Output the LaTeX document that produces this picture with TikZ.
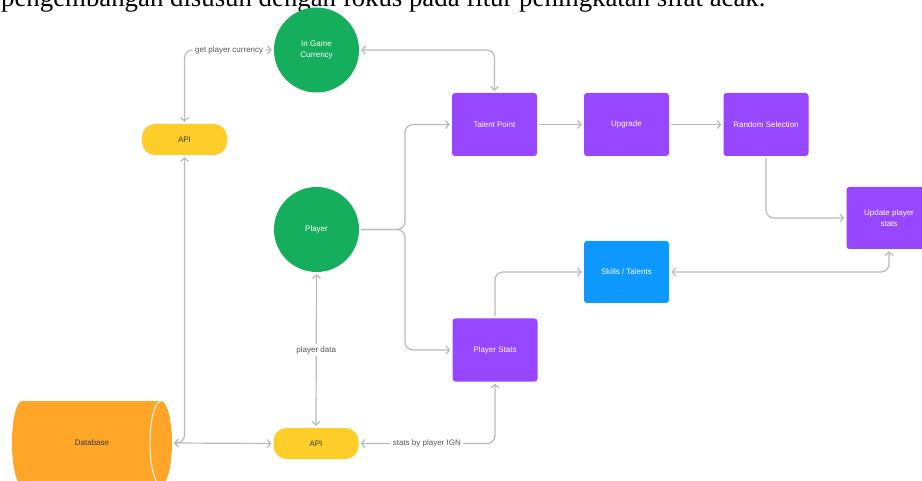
\documentclass[tikz,border=0pt]{standalone}
\usepackage{fontspec}
\setmainfont{Liberation Sans}
\newfontfamily\capserif{Liberation Serif}
\usetikzlibrary{arrows.meta}
\definecolor{cgreen}{HTML}{14AE5C}
\definecolor{cpurple}{HTML}{9747FF}
\definecolor{cblue}{HTML}{0D99FF}
\definecolor{cyellow}{HTML}{FFCD29}
\definecolor{corange}{HTML}{FFA629}
\definecolor{cline}{HTML}{BABABA}
\definecolor{clabel}{HTML}{555555}
\definecolor{cdark}{HTML}{3A3A3A}
\tikzset{
  basefont/.style={font=\fontsize{8}{11.5}\selectfont},
  circ/.style={basefont, circle, fill=cgreen, text=white, minimum size=85, inner sep=0, align=center},
  pbox/.style={basefont, rectangle, rounded corners=3, fill=cpurple, text=white, minimum width=85, minimum height=63, inner sep=0, align=center},
  bbox/.style={pbox, fill=cblue, minimum height=62},
  pill/.style={basefont, rectangle, rounded corners=13, fill=cyellow, text=cdark, minimum width=85, minimum height=31, inner sep=0},
  conn/.style={draw=cline, line width=1.2pt, rounded corners=8, shorten >=2pt, shorten <=2pt,
    >={Straight Barb[length=3.5pt,width=8pt]}},
  lbl/.style={basefont, text=clabel, fill=white, inner sep=2.5pt}
}
\begin{document}
\begin{tikzpicture}[x=1pt,y=-1pt]
\useasboundingbox (0,0) rectangle (922,481);
\clip (0,0) rectangle (922,481);
% caption fragment at top
\node[anchor=base west, inner sep=0, font=\capserif\fontsize{26.8}{30}\selectfont] (cap) at (1,6.5) {pengembangan disusun dengan fokus pada fitur peningkatan sifat acak.};
% database cylinder
\fill[corange] (22,401) -- (161,401) arc[start angle=-90, end angle=90, x radius=11, y radius=42] -- (22,485) arc[start angle=90, end angle=270, x radius=10, y radius=42] -- cycle;
\draw[white, line width=0.9pt] (161,401) arc[start angle=270, end angle=90, x radius=11, y radius=42];
\node[basefont, text=cdark, minimum width=160, minimum height=84, inner sep=0] (db) at (92,443) {Database};
\coordinate (dbe) at (172,443);
% nodes
\node[circ] (igc) at (316.5,50) {In Game\\Currency};
\node[circ] (pl) at (316.5,229.5) {Player};
\node[pill] (apit) at (184.5,139.5) {API};
\node[pill] (apib) at (316,443.5) {API};
\node[pbox] (tp) at (494.5,124.5) {Talent Point};
\node[pbox] (up) at (626.5,124.5) {Upgrade};
\node[pbox] (rs) at (766,124.5) {Random Selection};
\node[pbox, minimum height=62] (ups) at (889,218) {Update player\\stats};
\node[bbox] (sk) at (626.5,272) {Skills / Talents};
\node[pbox] (ps) at (495,350) {Player Stats};
\coordinate (br) at (405,229.5);
% connectors
\draw[conn,<->] (apit.north) |- node[lbl, pos=0.75] {get player currency} (igc.west);
\draw[conn,<->] (igc.east) -| (tp.north);
\draw[conn,->] (pl.east) -- (br) |- (tp.west);
\draw[conn,->] (pl.east) -- (br) |- (ps.west);
\draw[conn,->] (tp.east) -- (up.west);
\draw[conn,->] (up.east) -- (rs.west);
\draw[conn,->] (rs.south) |- (ups.west);
\draw[conn,->] (ps.north) |- (sk.west);
\draw[conn,<->] (sk.east) -| (ups.south);
\draw[conn,<->] (pl.south) -- node[lbl] {player data} (apib.north);
\draw[conn,<->] (dbe) -- (apib.west);
\draw[conn,<->] (apit.south) |- (dbe);
\draw[conn,<->] (apib.east) -| node[lbl, pos=0.25] {stats by player IGN} (ps.south);
\end{tikzpicture}
\end{document}
